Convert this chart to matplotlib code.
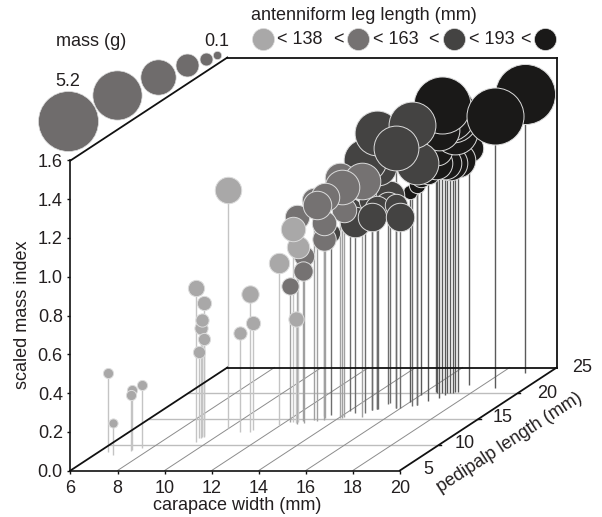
import matplotlib
matplotlib.use("Agg")
import matplotlib.pyplot as plt
import numpy as np

plt.rcParams['font.family'] = ['Liberation Sans', 'DejaVu Sans']
TXT = '#231f20'
FS = 13

# Each class: carapace width (mm), pedipalp length (mm), scaled mass index, mass (g)
width_0 = [6.39, 6.81, 7.30, 7.31, 7.56, 9.49, 9.50, 9.45, 9.44, 9.44, 9.36, 9.94, 10.71, 11.14, 11.11, 11.92, 12.53, 12.53, 12.32]
palp_0 = [8.6, 8.0, 9.0, 8.8, 9.4, 10.5, 11.5, 11.3, 11.5, 11.7, 11.3, 13.25, 12.5, 12.5, 12.9, 13.8, 14.2, 14.4, 14.4]
smi_0 = [0.41, 0.165, 0.31, 0.289, 0.323, 0.795, 0.692, 0.568, 0.604, 0.50, 0.444, 1.231, 0.511, 0.712, 0.55, 0.836, 0.537, 0.903, 0.996]
mass_0 = [0.144, 0.117, 0.144, 0.144, 0.144, 0.37, 0.283, 0.244, 0.244, 0.208, 0.208, 0.977, 0.244, 0.418, 0.283, 0.578, 0.325, 0.70, 0.832]

width_1 = [12.19, 12.85, 12.68, 12.62, 13.08, 14.16, 14.05, 14.93, 14.14, 13.50, 13.24, 13.42, 13.28]
palp_1 = [14.4, 14.2, 14.6, 14.0, 14.8, 15.4, 15.2, 15.4, 15.2, 14.8, 15.6, 15.2, 14.6]
smi_1 = [0.702, 0.862, 0.774, 1.068, 1.135, 1.068, 1.239, 1.218, 1.192, 0.934, 0.996, 1.141, 1.115]
mass_1 = [0.418, 0.578, 0.52, 0.832, 0.832, 0.832, 1.30, 1.87, 1.67, 0.764, 0.832, 1.13, 1.13]

width_2 = [13.48, 14.03, 14.89, 15.21, 15.19, 15.05, 14.37, 15.09, 14.80, 16.49, 15.05, 16.34, 15.78, 15.78, 14.89, 15.95]
palp_2 = [15.8, 16.55, 16.75, 18.1, 17.9, 16.9, 16.2, 16.9, 16.2, 17.7, 16.9, 17.5, 17.1, 17.1, 16.75, 17.1]
smi_2 = [0.939, 1.037, 1.084, 1.074, 1.027, 1.037, 0.986, 1.249, 1.306, 1.249, 1.425, 1.45, 1.342, 1.048, 0.996, 0.987]
mass_2 = [0.468, 0.832, 0.977, 1.13, 0.977, 0.832, 1.30, 1.87, 2.55, 2.55, 2.80, 3.06, 2.80, 0.70, 1.13, 1.13]

width_3 = [19.01, 17.41, 16.0, 16.49, 16.01, 16.69, 17.39, 17.11, 17.03, 16.45, 16.57, 17.26, 17.22, 16.99, 16.98, 16.76, 18.70]
palp_3 = [23.9, 21.6, 18.3, 17.7, 19.66, 18.5, 20.2, 20.05, 19.66, 20.2, 20.05, 20.2, 20.05, 20.05, 19.1, 20.05, 21.0]
smi_3 = [1.44, 1.223, 1.084, 1.135, 1.125, 1.182, 1.197, 1.187, 1.197, 1.182, 1.254, 1.342, 1.419, 1.445, 1.383, 1.486, 1.404]
mass_3 = [5.03, 1.13, 0.283, 0.37, 0.578, 0.832, 1.67, 1.67, 1.48, 1.48, 1.30, 2.80, 3.33, 4.53, 2.31, 4.53, 4.53]

colors = ['#a9a8a8', '#757272', '#444342', '#1a1918']
stem_colors = ['#c4c4c4', '#a0a0a0', '#6e6e6e', '#5a5a5a']

mass_legend = [5.2, 3.5, 1.8, 0.76, 0.24, 0.1]
leg_thresholds = ['< 138', '< 163', '< 193']
x_ticks = [6, 8, 10, 12, 14, 16, 18, 20]
z_ticks = [0.0, 0.2, 0.4, 0.6, 0.8, 1.0, 1.2, 1.4, 1.6]
p_ticks = [5, 10, 15, 20, 25]
X0, X1, Z1, P0, P1 = 6, 20, 1.6, 5, 25


def px(x, y):
    return x / 602, 1 - y / 517


def project(x, p, z):
    """Oblique projection of (carapace, pedipalp, SMI) on to the axes plane."""
    x, p, z = np.asarray(x, float), np.asarray(p, float), np.asarray(z, float)
    return x + (p - P0) / 3.0, z + (p - P0) * 0.02658


SIZE = 372.0

fig = plt.figure(figsize=(6.02, 5.17), dpi=100)
ax = fig.add_axes([0, 0, 1, 1])
ax.set_xlim(6 - 70.5 / 23.53, 6 + 531.5 / 23.53)
ax.set_ylim(-46.5 / 193.75, 470.5 / 193.75)
ax.patch.set_alpha(0)

for s in ['top', 'right']:
    ax.spines[s].set_visible(False)
ax.spines['left'].set_position(('data', X0))
ax.spines['bottom'].set_position(('data', 0))
ax.spines['left'].set_bounds(0, Z1)
ax.spines['bottom'].set_bounds(X0, X1)
ax.spines['left'].set_linewidth(1.2)
ax.spines['bottom'].set_linewidth(1.2)
ax.spines['left'].set_color('#111111')
ax.spines['bottom'].set_color('#111111')
ax.spines['left'].set_zorder(6)
ax.spines['bottom'].set_zorder(6)
ax.set_xticks(x_ticks)
ax.set_yticks(z_ticks)
ax.set_yticklabels([f'{v:.1f}' for v in z_ticks])
ax.tick_params(axis='both', length=2.5, width=1, color='#111111', labelsize=FS,
               labelcolor=TXT)
ax.tick_params(axis='x', pad=4)
ax.tick_params(axis='y', pad=3)


def seg(a, b, **kw):
    xs, ys = project([a[0], b[0]], [a[1], b[1]], [a[2], b[2]])
    ax.plot(xs, ys, solid_capstyle='projecting', **kw)


# floor grid
for p in p_ticks[1:-1]:
    seg((X0, p, 0), (X1, p, 0), color='#bdbdbd', lw=1.0, zorder=1)
for x in x_ticks[1:-1]:
    seg((x, P0, 0), (x, P1, 0), color='#8c8c8c', lw=0.7, zorder=1)

# stems and balls, darkest class first
classes = [(width_3, palp_3, smi_3, mass_3), (width_2, palp_2, smi_2, mass_2),
           (width_1, palp_1, smi_1, mass_1), (width_0, palp_0, smi_0, mass_0)]
cidx = [3, 2, 1, 0]
for (w, pp, z, m), c in zip(classes, cidx):
    bx, by = project(w, pp, np.zeros(len(w)))
    tx, ty = project(w, pp, z)
    ax.vlines(bx, by, ty, color=stem_colors[c], lw=1.0, zorder=2)

# frame
frame = dict(color='#111111', lw=1.3, zorder=4)
seg((X0, P1, 0), (X1, P1, 0), **frame)
seg((X0, P0, 0), (X0, P1, 0), **frame)
seg((X1, P0, 0), (X1, P1, 0), **frame)
seg((X0, P0, Z1), (X0, P1, Z1), **frame)
seg((X0, P1, Z1), (X1, P1, Z1), **frame)
seg((X1, P1, 0), (X1, P1, Z1), **frame)

zo = 7
for (w, pp, z, m), c in zip(classes, cidx):
    tx, ty = project(w, pp, z)
    for a, b, mm in zip(tx, ty, m):
        ax.scatter([a], [b], s=SIZE * mm, color=colors[c], edgecolors='#dcdcdc',
                   linewidths=0.7, zorder=zo, clip_on=False)
        zo += 0.01

# pedipalp ticks and labels
for p in p_ticks[1:-1]:
    tx, ty = project([X1, X1], [p, p], [0, 0])
    ax.plot([tx[0], tx[0] + 0.1], [ty[0], ty[0]], color='#111111', lw=1.0, zorder=4)
p_label_xy = [(428, 470), (465, 443), (503, 417), (547, 393), (582, 367)]
for p, (a, b) in zip(p_ticks, p_label_xy):
    ax.text(*px(a, b), str(p), transform=ax.transAxes, ha='center', va='center',
            fontsize=FS, color=TXT)

# axis titles
ax.text(*px(23, 315), 'scaled mass index', transform=ax.transAxes, rotation=90,
        ha='center', va='center', fontsize=FS, color=TXT)
ax.text(*px(237, 505), 'carapace width (mm)', transform=ax.transAxes,
        ha='center', va='center', fontsize=FS, color=TXT)
ax.text(*px(510, 443), 'pedipalp length (mm)', transform=ax.transAxes, rotation=33,
        rotation_mode='anchor', ha='center', va='center', fontsize=FS, color=TXT)

# mass legend
mass_xy = [(68, 121), (117, 95), (158, 77), (187, 65), (205.5, 59), (217, 55)]
for m, (a, b) in zip(mass_legend, mass_xy):
    ax.scatter(*px(a, b), s=359 * m, color='#6f6c6c', edgecolors='#dddddd', linewidths=0.5,
               transform=ax.transAxes, zorder=5, clip_on=False)
ax.text(*px(91, 41), 'mass (g)', transform=ax.transAxes, ha='center', va='center',
        fontsize=FS, color=TXT)
ax.text(*px(68, 82), '5.2', transform=ax.transAxes, ha='center', va='center', fontsize=FS, color=TXT)
ax.text(*px(217, 41), '0.1', transform=ax.transAxes, ha='center', va='center', fontsize=FS, color=TXT)

# antenniform leg legend
ax.text(*px(364, 16), 'antenniform leg length (mm)', transform=ax.transAxes, ha='center',
        va='center', fontsize=FS, color=TXT)
leg_x = [263, 358, 454, 545]
for a, c in zip(leg_x, colors):
    ax.scatter(*px(a, 38.5), s=359 * 0.7, color=c, edgecolors='#dddddd', linewidths=0.5,
               transform=ax.transAxes, zorder=5, clip_on=False)
label_x = [299.5, 396, 492]
for a, t in zip(label_x, leg_thresholds):
    ax.text(*px(a, 40), t, transform=ax.transAxes, ha='center', va='center', fontsize=FS, color=TXT)
for a in [338, 433, 525]:
    ax.text(*px(a, 40), '<', transform=ax.transAxes, ha='center', va='center', fontsize=FS, color=TXT)

fig.savefig('out.png', dpi=100)
